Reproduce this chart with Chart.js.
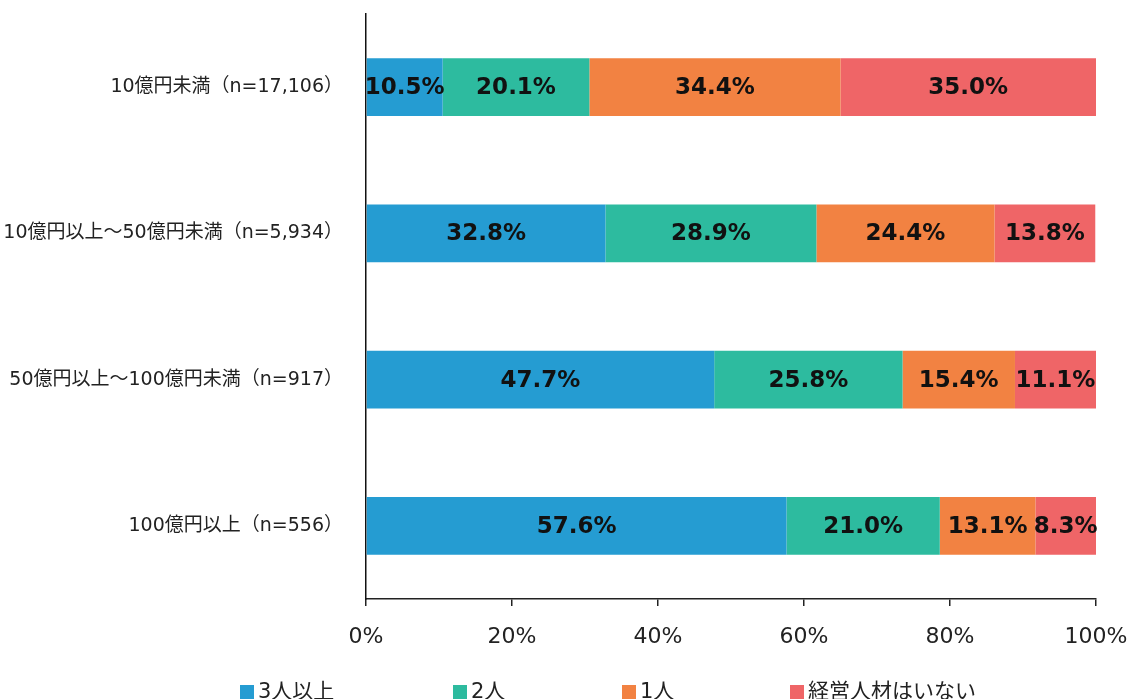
<!DOCTYPE html>
<html>
<head>
<meta charset="utf-8">
<script src="https://cdn.jsdelivr.net/npm/chart.js@4"></script>
<style>
  body { margin: 0; background: #fff; }
  #wrap { position: relative; width: 1131px; height: 699px; }
  #legend { position: absolute; left: 240px; top: 674px; font: 21px "DejaVu Sans", "Noto Sans CJK JP", sans-serif; color: #222; white-space: nowrap; }
  #legend span.item { display: inline-block; }
  #legend i { display: inline-block; width: 14px; height: 14px; margin-right: 4px; vertical-align: -1px; }
</style>
</head>
<body>
<div id="wrap">
  <canvas id="myChart" width="1131" height="699"></canvas>
  <div id="legend"></div>
</div>
<script>
const categories = [
  "10億円未満（n=17,106）",
  "10億円以上～50億円未満（n=5,934）",
  "50億円以上～100億円未満（n=917）",
  "100億円以上（n=556）"
];
const seriesNames = ["3人以上", "2人", "1人", "経営人材はいない"];
const threeOrMore = [10.5, 32.8, 47.7, 57.6];
const two = [20.1, 28.9, 25.8, 21.0];
const one = [34.4, 24.4, 15.4, 13.1];
const none = [35.0, 13.8, 11.1, 8.3];
const xTicks = [0, 20, 40, 60, 80, 100];
const colors = ["#259cd2", "#2dbb9f", "#f28242", "#ef6567"];

// draw the percentage text in the middle of each segment
const segmentLabels = {
  id: "segmentLabels",
  afterDatasetsDraw(chart) {
    let ctx = chart.ctx;
    ctx.save();
    ctx.font = "bold 23px 'DejaVu Sans', sans-serif";
    ctx.fillStyle = "#111";
    ctx.textAlign = "center";
    ctx.textBaseline = "middle";
    chart.data.datasets.forEach((ds, i) => {
      chart.getDatasetMeta(i).data.forEach((bar, j) => {
        let p = bar.getCenterPoint();
        ctx.fillText(ds.data[j].toFixed(1) + "%", p.x, p.y + 1);
      });
    });
    ctx.restore();
  }
};

let allSeries = [threeOrMore, two, one, none];
let ctx = document.getElementById("myChart").getContext("2d");
let chart = new Chart(ctx, {
  type: "bar",
  data: {
    labels: categories,
    datasets: allSeries.map((vals, i) => ({
      label: seriesNames[i],
      data: vals,
      backgroundColor: colors[i],
      borderWidth: 0,
      categoryPercentage: 1,
      barPercentage: 0.395
    }))
  },
  options: {
    indexAxis: "y",
    responsive: false,
    animation: false,
    layout: { padding: { top: 14, right: 35, bottom: 40, left: 0 } },
    plugins: {
      legend: { display: false },
      tooltip: { enabled: false }
    },
    scales: {
      x: {
        stacked: true,
        min: 0,
        max: 100,
        afterBuildTicks(scale) {
          scale.ticks = xTicks.map((v) => ({ value: v }));
        },
        afterFit(scale) {
          scale.height = 60;
          scale.paddingLeft = 0;
          scale.paddingRight = 0;
        },
        grid: { drawOnChartArea: false, drawTicks: true, tickLength: 7, tickColor: "#222", lineWidth: 1.5 },
        border: { display: true, color: "#222", width: 1.5 },
        ticks: {
          padding: 18,
          color: "#222",
          font: { family: "'DejaVu Sans', sans-serif", size: 22 },
          callback: (v) => v + "%"
        }
      },
      y: {
        stacked: true,
        afterFit(scale) {
          scale.width = 366;
          scale.paddingTop = 0;
          scale.paddingBottom = 0;
        },
        grid: { display: false },
        border: { display: true, color: "#111", width: 1.5 },
        ticks: {
          padding: 15,
          color: "#222",
          font: { family: "'DejaVu Sans', 'Noto Sans CJK JP', sans-serif", size: 19 }
        }
      }
    }
  },
  plugins: [segmentLabels]
});

let legendHtml = "";
seriesNames.forEach((name, i) => {
  let w = i < 3 ? [213, 169, 168][i] : 0;
  legendHtml += `<span class="item" style="width:${w ? w + "px" : "auto"}"><i style="background:${colors[i]}"></i>${name}</span>`;
});
document.getElementById("legend").innerHTML = legendHtml;
</script>
</body>
</html>
